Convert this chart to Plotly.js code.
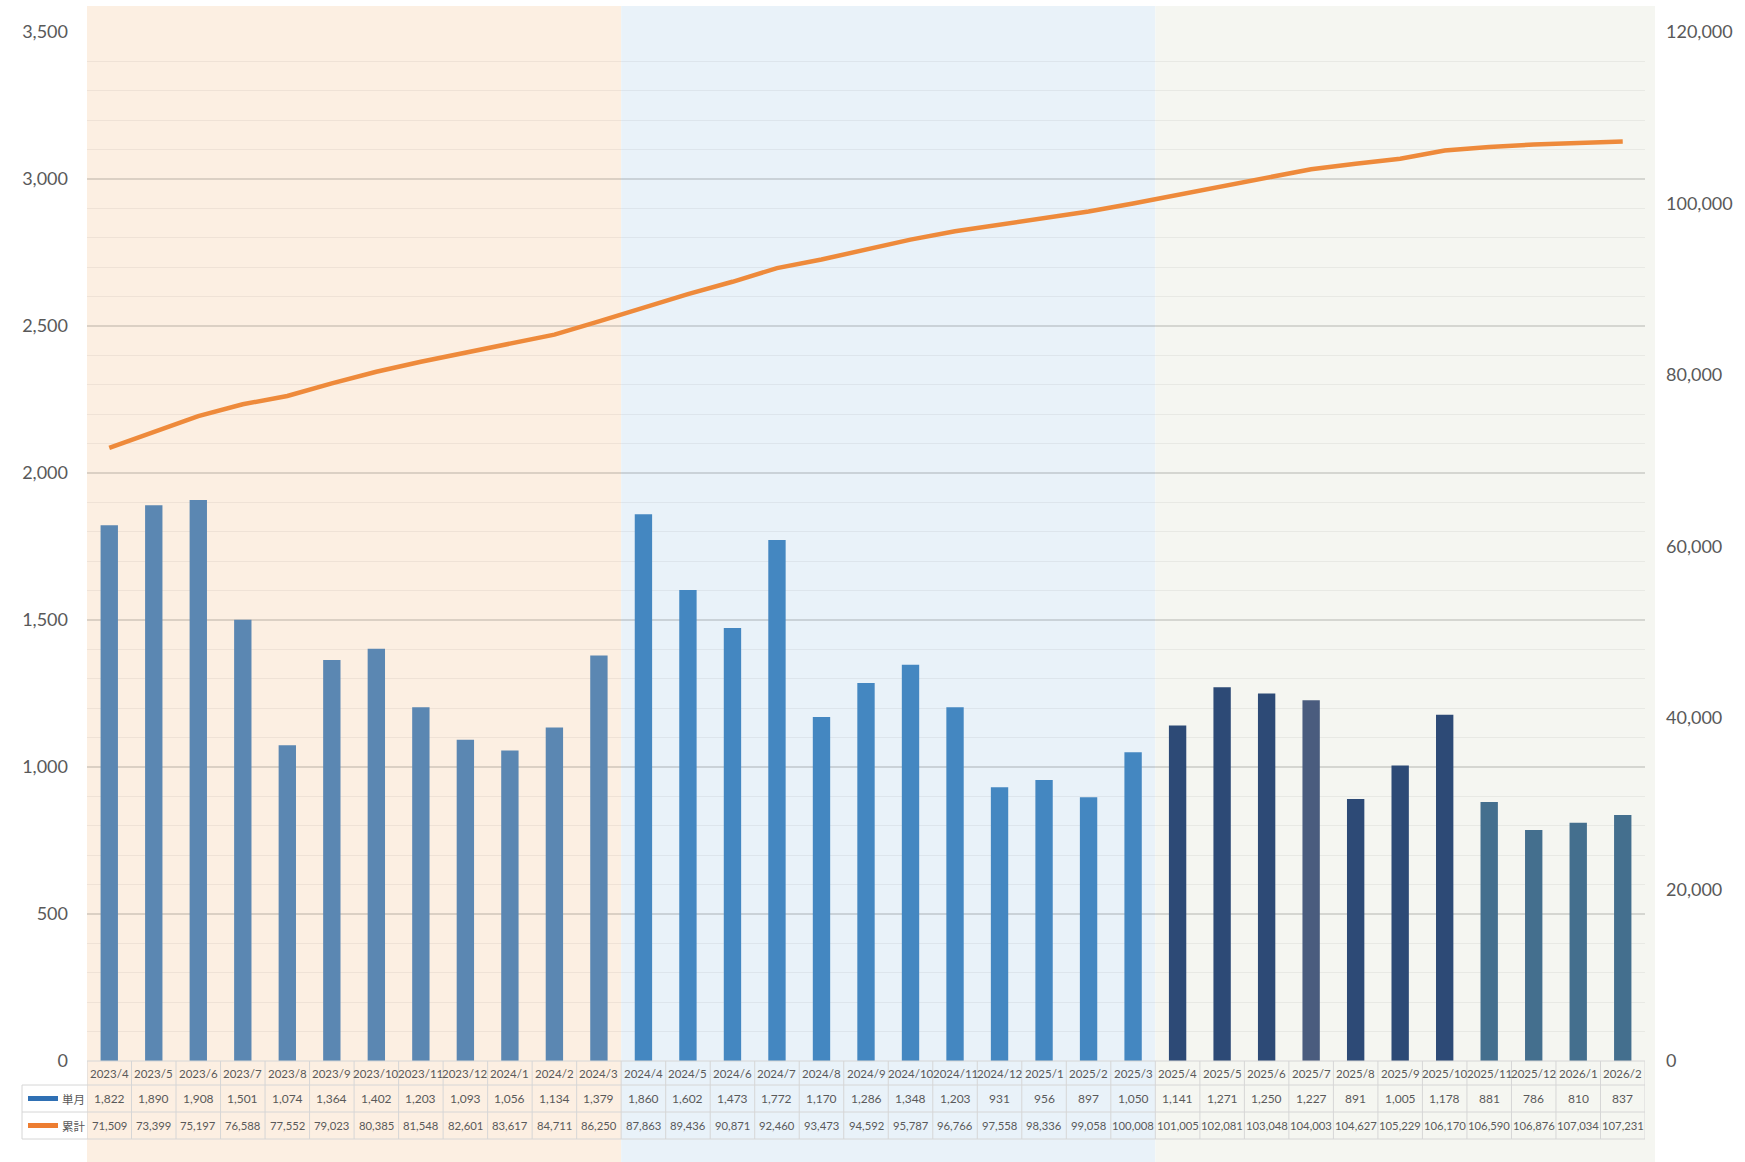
<!DOCTYPE html>
<html>
<head>
<meta charset="utf-8">
<script src="https://cdn.plot.ly/plotly-3.0.1.min.js"></script>
<style>html,body{margin:0;padding:0;background:#fff;}#chart{width:1745px;height:1162px;}</style>
</head>
<body>
<div id="chart"></div>
<script>
const months = ["2023/4","2023/5","2023/6","2023/7","2023/8","2023/9","2023/10","2023/11","2023/12","2024/1","2024/2","2024/3",
  "2024/4","2024/5","2024/6","2024/7","2024/8","2024/9","2024/10","2024/11","2024/12","2025/1","2025/2","2025/3",
  "2025/4","2025/5","2025/6","2025/7","2025/8","2025/9","2025/10","2025/11","2025/12","2026/1","2026/2"];
const monthly = [1822,1890,1908,1501,1074,1364,1402,1203,1093,1056,1134,1379,
  1860,1602,1473,1772,1170,1286,1348,1203,931,956,897,1050,
  1141,1271,1250,1227,891,1005,1178,881,786,810,837];
const cumulative = [71509,73399,75197,76588,77552,79023,80385,81548,82601,83617,84711,86250,
  87863,89436,90871,92460,93473,94592,95787,96766,97558,98336,99058,100008,
  101005,102081,103048,104003,104627,105229,106170,106590,106876,107034,107231];
const seriesNames = ["単月","累計"];
const barColors = [
  "#5b87b2","#5b87b2","#5b87b2","#5b87b2","#5b87b2","#5b87b2","#5b87b2","#5b87b2","#5b87b2","#5b87b2","#5b87b2","#5b87b2",
  "#4487c1","#4487c1","#4487c1","#4487c1","#4487c1","#4487c1","#4487c1","#4487c1","#4487c1","#4487c1","#4487c1","#4487c1",
  "#2d4a76","#2d4a76","#2d4a76","#4a5c7e","#2d4a76","#2d4a76","#2d4a76","#446f8e","#446f8e","#446f8e","#446f8e"];
// period bands: [first index, last index, colour]
const periods = [[0,11,"#fcefe2"],[12,23,"#e9f2f9"],[24,34,"#f5f6f1"]];

const W = 1745, H = 1162;
const plotL = 87, plotR = 1645, plotT = 32, plotB = 1061;
const ph = plotB - plotT, pw = plotR - plotL;
const py = p => (plotB - p) / ph;     // pixel y -> paper y
const px = p => (p - plotL) / pw;     // pixel x -> paper x

const fmt = v => v.toLocaleString('en-US');
const numFont = "Lato, 'Noto Sans CJK JP', sans-serif";
const tblFont = "Lato, sans-serif";
const gray = "#595959";
const border = "#d6d6d6";

const traces = [
  {type:'bar', x:months, y:monthly, name:seriesNames[0], marker:{color:barColors}, width:0.39, yaxis:'y', hoverinfo:'skip'},
  {type:'scatter', mode:'lines', x:months, y:cumulative, name:seriesNames[1], yaxis:'y2',
   line:{color:'#ee8a3b', width:4.5}, hoverinfo:'skip'}
];

const shapes = [];
const annotations = [];
const n = months.length;
// background bands
periods.forEach(([a,b,c]) => {
  shapes.push({type:'rect', layer:'below', xref:'x', yref:'paper',
    x0:a-0.5, x1:b+0.5, y0:py(H), y1:py(6), fillcolor:c, line:{width:0}});
});
shapes.push({type:'rect', layer:'below', xref:'paper', yref:'paper',
  x0:1, x1:px(1655), y0:py(H), y1:py(6), fillcolor:periods[2][2], line:{width:0}});

// table rows (pixel boundaries)
const rows = [plotB, 1085, 1112, 1139];
const tableLeft = 22;
shapes.push({type:'line', xref:'x', yref:'paper', x0:-0.5, x1:n-0.5, y0:py(rows[0]), y1:py(rows[0]), line:{color:border,width:1}});
for (let r=1; r<rows.length; r++) {
  shapes.push({type:'line', xref:'paper', yref:'paper', x0:px(tableLeft), x1:1, y0:py(rows[r]), y1:py(rows[r]), line:{color:border,width:1}});
}
for (let i=0; i<=n; i++) {
  shapes.push({type:'line', xref:'x', yref:'paper', x0:i-0.5, x1:i-0.5, y0:py(rows[0]), y1:py(rows[3]), line:{color:border,width:1}});
}
shapes.push({type:'line', xref:'paper', yref:'paper', x0:px(tableLeft), x1:px(tableLeft), y0:py(rows[1]), y1:py(rows[3]), line:{color:border,width:1}});
shapes.push({type:'rect', layer:'below', xref:'paper', yref:'paper', x0:px(tableLeft), x1:0, y0:py(rows[3]), y1:py(rows[1]), fillcolor:'#ffffff', line:{width:0}});

const rowMid = r => py((rows[r] + rows[r+1]) / 2);
for (let i=0; i<n; i++) {
  annotations.push({xref:'x', yref:'paper', x:months[i], y:rowMid(0), text:months[i], showarrow:false,
    font:{family:tblFont, size:11.5, color:gray}, xanchor:'center', yanchor:'middle'});
  annotations.push({xref:'x', yref:'paper', x:months[i], y:rowMid(1), text:fmt(monthly[i]), showarrow:false,
    font:{family:tblFont, size:12, color:gray}, xanchor:'center', yanchor:'middle'});
  annotations.push({xref:'x', yref:'paper', x:months[i], y:rowMid(2), text:fmt(cumulative[i]), showarrow:false,
    font:{family:tblFont, size:11.3, color:gray}, xanchor:'center', yanchor:'middle'});
}
// legend keys
const keyColors = ['#2f70b4','#ed7d31'];
[1,2].forEach((r,k) => {
  const yy = rowMid(r);
  shapes.push({type:'line', xref:'paper', yref:'paper', x0:px(28), x1:px(58), y0:yy, y1:yy, line:{color:keyColors[k], width:5}});
  annotations.push({xref:'paper', yref:'paper', x:px(60), y:yy, text:seriesNames[k], showarrow:false,
    font:{family:"'Noto Sans CJK JP', sans-serif", size:11.5, color:gray}, xanchor:'left', yanchor:'middle'});
});

const layout = {
  width:W, height:H,
  margin:{l:plotL, r:W-plotR, t:plotT, b:H-plotB, pad:0},
  paper_bgcolor:'#ffffff', plot_bgcolor:'rgba(0,0,0,0)',
  showlegend:false, hovermode:false,
  xaxis:{type:'category', showticklabels:false, showgrid:false, zeroline:false, showline:false, ticks:'', range:[-0.5, n-0.5], fixedrange:true},
  yaxis:{range:[0,3500], dtick:500, tickformat:',d', showgrid:true, gridcolor:'rgba(0,0,0,0.13)', gridwidth:1.5,
    minor:{dtick:100, showgrid:true, gridcolor:'rgba(0,0,0,0.05)', gridwidth:1},
    zeroline:false, showline:false, ticks:'', ticklabelstandoff:18,
    tickfont:{family:numFont, size:18, color:gray}, fixedrange:true},
  yaxis2:{range:[0,120000], dtick:20000, tickformat:',d', overlaying:'y', side:'right', showgrid:false,
    zeroline:false, showline:false, ticks:'', ticklabelstandoff:20,
    tickfont:{family:numFont, size:18, color:gray}, fixedrange:true},
  shapes:shapes, annotations:annotations
};
Plotly.newPlot('chart', traces, layout, {staticPlot:true, displayModeBar:false});
</script>
</body>
</html>
